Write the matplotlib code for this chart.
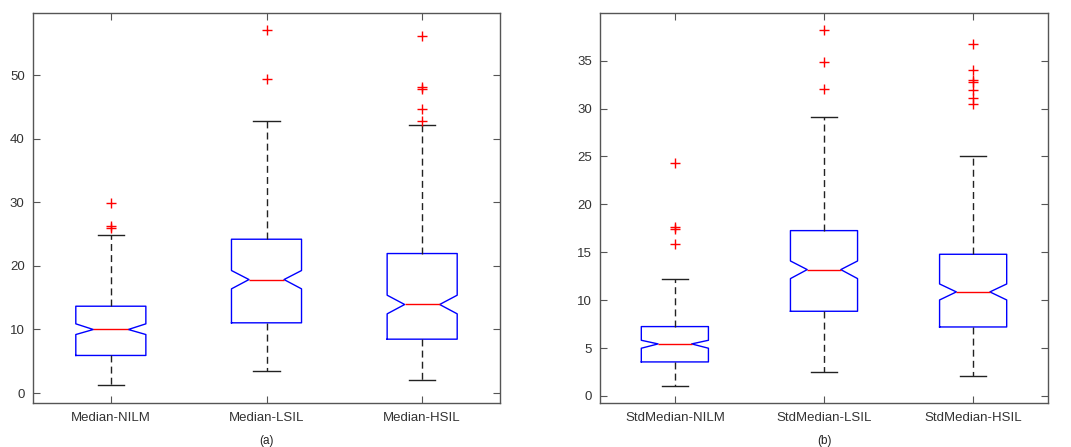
import matplotlib
matplotlib.use("Agg")
import matplotlib.pyplot as plt

plt.rcParams['font.family'] = ['Liberation Sans', 'DejaVu Sans']

# ---- Panel (a) ----
labels_a = ["Median-NILM", "Median-LSIL", "Median-HSIL"]
med_a = [10.0, 17.85, 13.93]
q1_a = [5.92, 11.05, 8.48]
q3_a = [13.66, 24.19, 21.94]
cilo_a = [9.21, 16.39, 12.46]
cihi_a = [10.89, 19.27, 15.39]
whislo_a = [1.2, 3.4, 2.09]
whishi_a = [24.87, 42.77, 42.09]
fliers_a = [[29.9, 26.3, 25.9],
            [57.0, 49.3],
            [56.2, 48.06, 47.75, 44.6, 42.8]]

# ---- Panel (b) ----
labels_b = ["StdMedian-NILM", "StdMedian-LSIL", "StdMedian-HSIL"]
med_b = [5.43, 13.19, 10.86]
q1_b = [3.55, 8.84, 7.2]
q3_b = [7.24, 17.26, 14.79]
cilo_b = [4.98, 12.25, 10.02]
cihi_b = [5.81, 14.09, 11.69]
whislo_b = [1.08, 2.47, 2.05]
whishi_b = [12.21, 29.12, 25.05]
fliers_b = [[24.29, 17.6, 17.4, 15.83],
            [38.17, 34.83, 32.08],
            [36.78, 34.06, 32.99, 32.81, 31.98, 31.14, 30.48]]


def make_stats(labels, med, q1, q3, cilo, cihi, wlo, whi, fl):
    out = []
    for i in range(len(labels)):
        out.append(dict(label=labels[i], med=med[i], q1=q1[i], q3=q3[i],
                        cilo=cilo[i], cihi=cihi[i], whislo=wlo[i],
                        whishi=whi[i], fliers=fl[i]))
    return out


fig = plt.figure(figsize=(10.71, 4.47), dpi=100)
ax1 = fig.add_axes([33 / 1071, 1 - 403.3 / 447, 467 / 1071, 390 / 447])
ax2 = fig.add_axes([600.3 / 1071, 1 - 403.3 / 447, 447.4 / 1071, 390 / 447])

spine_c = '#555555'
text_c = '#333333'


def draw(ax, stats, ylim, yticks, tag):
    ax.bxp(stats, positions=[1, 2, 3], widths=0.45, capwidths=0.17,
           shownotches=True, showfliers=True,
           boxprops=dict(color='#0000FF', linewidth=1.0),
           medianprops=dict(color='#FF0000', linewidth=1.0),
           whiskerprops=dict(color='#222222', linewidth=1.0, linestyle=(0, (5, 3))),
           capprops=dict(color='#222222', linewidth=1.0),
           flierprops=dict(marker='+', markeredgecolor='#FF0000',
                           markersize=7, markeredgewidth=1.0, linestyle='none'))
    ax.set_xlim(0.5, 3.5)
    ax.set_ylim(*ylim)
    ax.set_yticks(yticks)
    ax.set_xticks([1, 2, 3])
    ax.set_xticklabels([s['label'] for s in stats])
    ax.tick_params(direction='in', length=5, width=0.8, color=spine_c,
                   labelcolor=text_c, labelsize=9.5,
                   top=True, right=True, pad=6)
    for sp in ax.spines.values():
        sp.set_color(spine_c)
        sp.set_linewidth(1.0)
    ax.text(0.5, -0.097, tag, transform=ax.transAxes, ha='center', va='center',
            fontsize=8.5, color='#222222')


draw(ax1, make_stats(labels_a, med_a, q1_a, q3_a, cilo_a, cihi_a,
                     whislo_a, whishi_a, fliers_a),
     (-1.6, 59.7), [0, 10, 20, 30, 40, 50], '(a)')
draw(ax2, make_stats(labels_b, med_b, q1_b, q3_b, cilo_b, cihi_b,
                     whislo_b, whishi_b, fliers_b),
     (-0.77, 39.95), [0, 5, 10, 15, 20, 25, 30, 35], '(b)')

fig.savefig('out.png', dpi=100)
